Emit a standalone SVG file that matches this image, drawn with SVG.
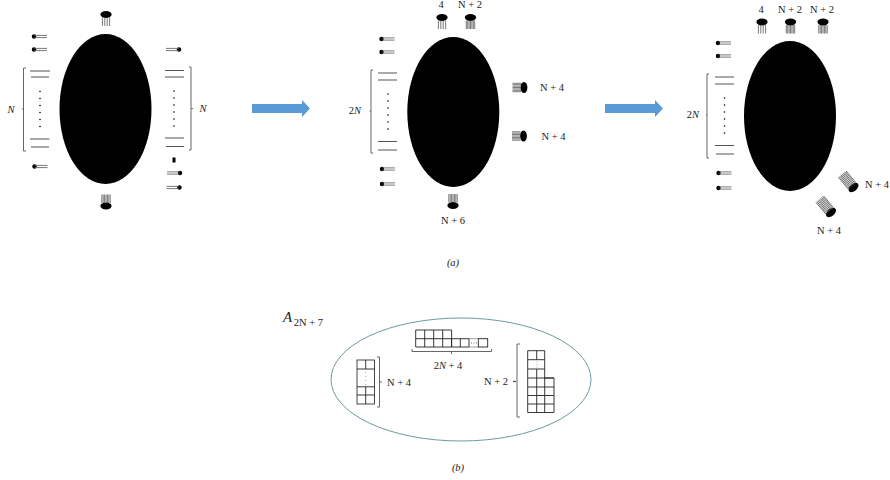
<svg xmlns="http://www.w3.org/2000/svg" width="890" height="480" viewBox="0 0 890 480">
<style>
text{font-family:"Liberation Serif","DejaVu Serif",serif;font-size:10.5px;fill:#222;text-anchor:middle;dominant-baseline:central}
.i{font-style:italic}
.bar{stroke:#555;stroke-width:1;fill:none}
.thin{stroke:#555;stroke-width:.8;fill:none}
.br{stroke:#666;stroke-width:1;fill:none}
.cell{stroke:#333;stroke-width:.9;fill:#fff}
.g{stroke:#222;stroke-width:.9;fill:none}
</style>
<defs>
<g id="hL"><circle cx="0" cy="0" r="2.200" fill="#000"/><path class="thin" d="M0-1.100H13M0 1.100H13"/></g>
<g id="t4"><ellipse cx="0" cy="0" rx="5.600" ry="3.400" fill="#000"/><path class="thin" d="M-3.600 3V11.500M-1.200 3V11.500M1.200 3V11.500M3.600 3V11.500"/></g>
<g id="tD"><ellipse cx="0" cy="0" rx="5.600" ry="3.400" fill="#000"/><path class="thin" d="M-4.200 3V11.500M-2.800 3V11.500M-1.400 3V11.500M0 3V11.500M1.400 3V11.500M2.800 3V11.500M4.200 3V11.500"/></g>
<g id="tR"><ellipse cx="0" cy="0" rx="5.800" ry="3.600" fill="#000"/><path class="thin" d="M-5 2V17.500M-3.800 2V17.500M-2.500 2V17.500M-1.300 2V17.500M0 2V17.500M1.300 2V17.500M2.500 2V17.500M3.800 2V17.500M5 2V17.500"/></g>
<g id="dots"><circle cx="0" cy="0" r=".8"/><circle cx="0" cy="7" r=".8"/><circle cx="0" cy="14" r=".8"/><circle cx="0" cy="21" r=".8"/><circle cx="0" cy="28" r=".8"/><circle cx="0" cy="35" r=".8"/></g>
<path id="arrow" d="M0 4H50V0L58 8.500L50 17V13H0Z" fill="#5b9bd5"/>
</defs>

<g id="connectors">
<use href="#arrow" x="252" y="100"/>
<use href="#arrow" x="605" y="100"/>
</g>

<g id="stage-1">
<ellipse cx="105.500" cy="109" rx="46" ry="75" fill="#000"/>
<use href="#t4" x="106" y="14.500"/>
<use href="#tD" transform="translate(106 206) scale(1 -1)"/>
<use href="#hL" x="34" y="36.500"/>
<use href="#hL" x="34" y="49.500"/>
<use href="#hL" x="34.500" y="166.500"/>
<path class="bar" d="M30 71H50M31 77H49M30 139H49.500M31 147H49"/>
<use href="#dots" x="40" y="91.500"/>
<path class="br" d="M26 68H23.500V151H26M23.500 109H22"/>
<text class="i" x="11" y="109">N</text>
<use href="#hL" transform="translate(179 49.500) scale(-1 1)"/>
<path class="bar" d="M165 70.500H184M165 77H184M165 138H184M166 146.500H184"/>
<use href="#dots" x="174" y="91"/>
<path class="br" d="M189 67H191V150H189M191 108.500H193"/>
<text class="i" x="203" y="108">N</text>
<rect x="172.500" y="157.500" width="3" height="5" fill="#000"/>
<use href="#hL" transform="translate(180 173) scale(-1 1)"/>
<use href="#hL" transform="translate(179.500 187.500) scale(-1 1)"/>
</g>

<g id="stage-2">
<ellipse cx="453.300" cy="112" rx="46" ry="75" fill="#000"/>
<text x="441" y="4.500">4</text>
<text x="470" y="4.500">N + 2</text>
<use href="#t4" x="442" y="17.500"/>
<use href="#tD" x="470.500" y="17.500"/>
<use href="#hL" x="381.500" y="39"/>
<use href="#hL" x="381.500" y="52"/>
<use href="#hL" x="382" y="169"/>
<use href="#hL" x="382" y="184"/>
<path class="bar" d="M378 73H397M378 80H397M378 141.500H397M378 150H397"/>
<use href="#dots" x="388" y="94"/>
<path class="br" d="M373 70H371V153H373M371 111H369.500"/>
<text x="355" y="110">2<tspan class="i">N</tspan></text>
<use href="#tD" transform="translate(524 87.500) rotate(90)"/>
<text x="552" y="87.500">N + 4</text>
<use href="#tD" transform="translate(523.500 136) rotate(90)"/>
<text x="553.500" y="136.500">N + 4</text>
<use href="#tD" transform="translate(453 205.500) scale(1 -1)"/>
<text x="453" y="220">N + 6</text>
<text class="i" x="453" y="262">(a)</text>
</g>

<g id="stage-3">
<ellipse cx="790" cy="116" rx="46" ry="75" fill="#000"/>
<text x="761" y="9">4</text>
<text x="790" y="9">N + 2</text>
<text x="822" y="9">N + 2</text>
<use href="#t4" x="762" y="22"/>
<use href="#tD" x="790.500" y="22"/>
<use href="#tD" x="823" y="22"/>
<use href="#hL" x="718" y="43"/>
<use href="#hL" x="718" y="56"/>
<use href="#hL" x="718.500" y="173"/>
<use href="#hL" x="718.500" y="188"/>
<path class="bar" d="M715 77H734M715 84H734M715 145.500H734M716 154H734"/>
<use href="#dots" x="724.500" y="98"/>
<path class="br" d="M709 74H707V158H709M707 115H706"/>
<text x="693" y="114">2<tspan class="i">N</tspan></text>
<use href="#tR" transform="translate(853.500 187.500) rotate(140)"/>
<text x="877" y="184">N + 4</text>
<use href="#tR" transform="translate(831 212.500) rotate(140)"/>
<text x="829" y="230.500">N + 4</text>
</g>

<g id="state-b">
<ellipse cx="461" cy="379.500" rx="130" ry="61.500" fill="none" stroke="#6f9a9f" stroke-width="1"/>
<text class="i" x="287.500" y="317" style="font-size:15px">A</text>
<text x="308.500" y="322.500">2N + 7</text>

<g id="grid-left">
<rect class="cell" x="357" y="360" width="17.500" height="44"/>
<path class="g" d="M357 369H374.500M357 386.800H374.500M357 395H374.500M365.700 360V369M365.700 386.800V404"/>
<path d="M365.700 372V385" stroke="#999" stroke-width=".8" stroke-dasharray="1 3" fill="none"/>
<path class="br" d="M377 357H379.500V407H377M379.500 382H382"/>
<text x="399" y="382">N + 4</text>
</g>

<g id="grid-top">
<path class="g" d="M415.700 330H451.600V347H415.700ZM415.700 338.700H451.600M424.700 330V347M433.700 330V347M442.700 330V347"/>
<path class="g" d="M451.600 338.700H469V347H451.600ZM460.300 338.700V347"/>
<rect x="478.300" y="338.700" width="9.400" height="8.300" class="g"/>
<path d="M469 338.700H478.300M469 347H478.300" stroke="#888" stroke-width=".8"/>
<path d="M471 343H477" stroke="#777" stroke-width="1" stroke-dasharray="1 1.500" fill="none"/>
<path class="br" d="M412 349V351.500H491.500V349M451.500 351.500V354"/>
<text x="448" y="365">2<tspan class="i">N</tspan> + 4</text>
</g>

<g id="grid-right">
<path class="g" d="M527.700 350.700H544.700V378H554V412.500H527.700ZM536.700 350.700V359.700M527.700 359.700H544.700M527.700 369H544.700M536.700 369V412.500M544.700 378V412.500M527.700 378H554M527.700 387H554M527.700 395.500H554M527.700 404H554"/>
<path d="M537 361.500V368" stroke="#999" stroke-width=".8" stroke-dasharray="1 1.500" fill="none"/>
<path class="br" d="M520 344H517V417H520"/>
<path d="M513 381.500H516" stroke="#444" stroke-width="1.200"/>
<text x="496" y="381">N + 2</text>
</g>
<text class="i" x="458" y="467">(b)</text>
</g>
</svg>
